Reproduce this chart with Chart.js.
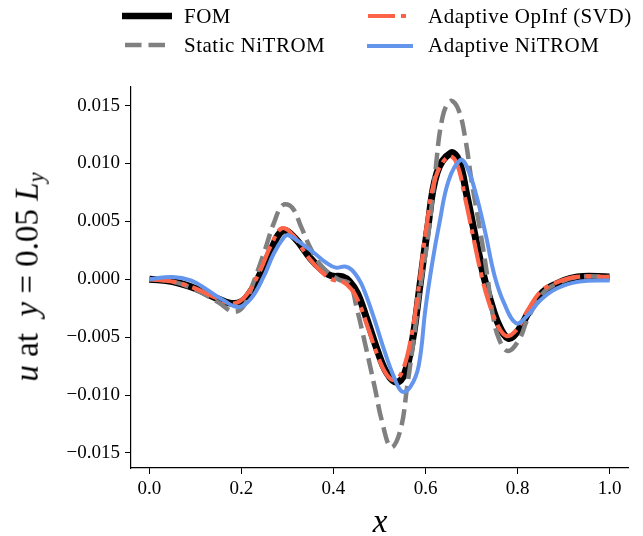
<!DOCTYPE html>
<html>
<head>
<meta charset="utf-8">
<script src="https://cdn.jsdelivr.net/npm/chart.js@4"></script>
<style>
  body { margin: 0; background: #fff; }
  #wrap { position: relative; width: 643px; height: 536px; overflow: hidden; }
  #grafica { position: absolute; left: 0; top: 0; }
  .leg { position: absolute; font-family: "Liberation Serif", serif; font-size: 21px; letter-spacing: 0.5px; line-height: 24px; white-space: nowrap; color: #000; }
  .sw { position: absolute; }
  #ylab { position: absolute; left: 29px; top: 277px; transform: translate(-50%, -50%) rotate(-90deg); font-family: "Liberation Serif", serif; font-size: 33px; white-space: nowrap; }
  #xlab { position: absolute; left: 380px; top: 521px; transform: translate(-50%, -50%); font-family: "Liberation Serif", serif; font-size: 33px; font-style: italic; }
  sub { font-size: 0.68em; vertical-align: -0.25em; }
</style>
</head>
<body>
<div id="wrap">
  <canvas id="grafica" width="643" height="536"></canvas>

  <svg class="sw" style="left:121px; top:6px" width="55" height="20"><line x1="1" y1="10" x2="51" y2="10" stroke="#000" stroke-width="6.5"/></svg>
  <div class="leg" style="left:184px; top:4px">FOM</div>
  <svg class="sw" style="left:121px; top:35px" width="55" height="20"><line x1="4" y1="10" x2="44" y2="10" stroke="#808080" stroke-width="4.5" stroke-dasharray="16.5 7"/></svg>
  <div class="leg" style="left:184px; top:33px">Static NiTROM</div>
  <svg class="sw" style="left:366px; top:6px" width="55" height="20"><line x1="2" y1="10" x2="42" y2="10" stroke="#ff6347" stroke-width="4.2" stroke-dasharray="27 6 5 6"/></svg>
  <div class="leg" style="left:428px; top:4px">Adaptive OpInf (SVD)</div>
  <svg class="sw" style="left:366px; top:36px" width="55" height="20"><line x1="1" y1="10" x2="47" y2="10" stroke="#6495ed" stroke-width="4"/></svg>
  <div class="leg" style="left:428px; top:33px">Adaptive NiTROM</div>

  <div id="ylab"><i>u</i> at &nbsp;<i>y</i> = 0.05 <i>L<sub>y</sub></i></div>
  <div id="xlab">x</div>
</div>

<script>
// perfil de u a lo largo de x (cada curva con sus propias muestras)
const fomX = [0.00, 0.05, 0.10, 0.15, 0.185, 0.21, 0.24, 0.265, 0.29, 0.315, 0.35, 0.375, 0.395, 0.42, 0.435, 0.452, 0.473, 0.495, 0.516, 0.537, 0.555, 0.572, 0.588, 0.605, 0.625, 0.655, 0.672, 0.69, 0.71, 0.727, 0.74, 0.76, 0.78, 0.80, 0.825, 0.855, 0.89, 0.93, 1.00];
const fomY = [0.0000, -0.0002, -0.0008, -0.0017, -0.0021, -0.0016, 0.0004, 0.0026, 0.0042, 0.0036, 0.0018, 0.0008, 0.0003, 0.0002, -0.0002, -0.0012, -0.0035, -0.0061, -0.0081, -0.0089, -0.0081, -0.0052, -0.0005, 0.0045, 0.0092, 0.0109, 0.0103, 0.0072, 0.0033, 0.0002, -0.0017, -0.0040, -0.0051, -0.0045, -0.0028, -0.0011, -0.0003, 0.0002, 0.0002];

const staticX = [0.00, 0.05, 0.10, 0.15, 0.183, 0.205, 0.225, 0.25, 0.27, 0.29, 0.31, 0.33, 0.35, 0.375, 0.41, 0.435, 0.45, 0.47, 0.49, 0.505, 0.525, 0.545, 0.56, 0.575, 0.59, 0.605, 0.62, 0.637, 0.655, 0.672, 0.687, 0.70, 0.72, 0.735, 0.745, 0.76, 0.78, 0.805, 0.82, 0.855, 0.89, 0.93, 1.00];
const staticY = [0.0000, -0.0002, -0.0009, -0.0020, -0.0028, -0.0023, -0.0004, 0.0024, 0.0048, 0.0064, 0.0062, 0.0045, 0.0027, 0.0011, 0.0000, -0.0004, -0.0024, -0.0058, -0.0094, -0.0122, -0.0145, -0.0131, -0.0093, -0.0050, -0.0003, 0.0035, 0.0088, 0.0140, 0.0154, 0.0146, 0.0120, 0.0085, 0.0039, 0.0001, -0.0028, -0.0052, -0.0062, -0.0051, -0.0036, -0.0012, -0.0003, 0.0002, 0.0002];

const opinfX = [0.00, 0.05, 0.10, 0.15, 0.183, 0.21, 0.24, 0.265, 0.288, 0.312, 0.345, 0.37, 0.395, 0.42, 0.44, 0.455, 0.475, 0.495, 0.515, 0.533, 0.55, 0.568, 0.585, 0.602, 0.622, 0.65, 0.668, 0.686, 0.706, 0.723, 0.737, 0.757, 0.776, 0.797, 0.822, 0.852, 0.89, 0.93, 1.00];
const opinfY = [0.0000, -0.0002, -0.0008, -0.0017, -0.0021, -0.0014, 0.0007, 0.0030, 0.0044, 0.0038, 0.0019, 0.0008, 0.0000, -0.0002, -0.0009, -0.0020, -0.0042, -0.0065, -0.0082, -0.0087, -0.0079, -0.0052, -0.0008, 0.0045, 0.0088, 0.0106, 0.0100, 0.0070, 0.0032, 0.0001, -0.0019, -0.0040, -0.0049, -0.0044, -0.0027, -0.0010, -0.0002, 0.0002, 0.0002];

const nitromX = [0.00, 0.05, 0.09, 0.125, 0.16, 0.193, 0.22, 0.248, 0.27, 0.292, 0.302, 0.33, 0.36, 0.385, 0.405, 0.425, 0.44, 0.458, 0.47, 0.49, 0.51, 0.53, 0.549, 0.567, 0.585, 0.60, 0.615, 0.63, 0.65, 0.676, 0.69, 0.71, 0.73, 0.75, 0.77, 0.797, 0.82, 0.85, 0.885, 0.935, 1.00];
const nitromY = [0.0000, 0.0002, -0.0001, -0.0009, -0.0018, -0.0024, -0.0017, 0.0002, 0.0022, 0.0036, 0.0038, 0.0031, 0.0022, 0.0014, 0.0010, 0.0011, 0.0008, -0.0002, -0.0013, -0.0036, -0.0061, -0.0083, -0.0097, -0.0093, -0.0075, -0.0025, 0.0015, 0.0048, 0.0085, 0.0103, 0.0097, 0.0073, 0.0040, 0.0003, -0.0020, -0.0038, -0.0032, -0.0018, -0.0008, -0.0002, -0.0001];

const xTicks = [0.0, 0.2, 0.4, 0.6, 0.8, 1.0];
const yTicks = [-0.015, -0.010, -0.005, 0.000, 0.005, 0.010, 0.015];

function puntos(xs, ys) {
  return xs.map((x, i) => ({ x: x, y: ys[i] }));
}

function menos(txt) {
  return txt.replace('-', '\u2212');
}

const fuente = { family: "'Liberation Serif', serif", size: 19 };

const myChart = new Chart("grafica", {
  type: "line",
  data: {
    datasets: [
      {
        label: "FOM",
        data: puntos(fomX, fomY),
        borderColor: "#000000",
        borderWidth: 7,
        order: 4
      },
      {
        label: "Static NiTROM",
        data: puntos(staticX, staticY),
        borderColor: "#808080",
        borderWidth: 4.5,
        borderDash: [16.5, 7],
        order: 3
      },
      {
        label: "Adaptive OpInf (SVD)",
        data: puntos(opinfX, opinfY),
        borderColor: "#ff6347",
        borderWidth: 4.2,
        borderDash: [27, 6, 5, 6],
        order: 2
      },
      {
        label: "Adaptive NiTROM",
        data: puntos(nitromX, nitromY),
        borderColor: "#6495ed",
        borderWidth: 4,
        order: 1
      }
    ]
  },
  options: {
    responsive: false,
    animation: false,
    events: [],
    elements: {
      point: { radius: 0 },
      line: { tension: 0.4, fill: false, borderCapStyle: "butt", borderJoinStyle: "round" }
    },
    layout: { padding: { top: 87, right: 15, left: 0, bottom: 0 } },
    plugins: {
      legend: { display: false },
      tooltip: { enabled: false }
    },
    scales: {
      x: {
        type: "linear",
        min: -0.04,
        max: 1.04,
        afterBuildTicks: (s) => { s.ticks = xTicks.map(v => ({ value: v })); },
        afterFit: (s) => { s.height = 68; },
        grid: { drawOnChartArea: false, drawTicks: true, tickLength: 6, color: "#000", tickWidth: 1 },
        border: { display: true, color: "#000", width: 1.2 },
        ticks: {
          color: "#000",
          font: fuente,
          padding: 4,
          maxRotation: 0,
          callback: (v) => menos(v.toFixed(1))
        }
      },
      y: {
        type: "linear",
        min: -0.0163,
        max: 0.0166,
        afterBuildTicks: (s) => { s.ticks = yTicks.map(v => ({ value: v })); },
        afterFit: (s) => { s.width = 131; },
        grid: { drawOnChartArea: false, drawTicks: true, tickLength: 6, color: "#000", tickWidth: 1 },
        border: { display: true, color: "#000", width: 1.2 },
        ticks: {
          color: "#000",
          font: fuente,
          padding: 5,
          callback: (v) => menos(v.toFixed(3))
        }
      }
    }
  }
});
</script>
</body>
</html>
